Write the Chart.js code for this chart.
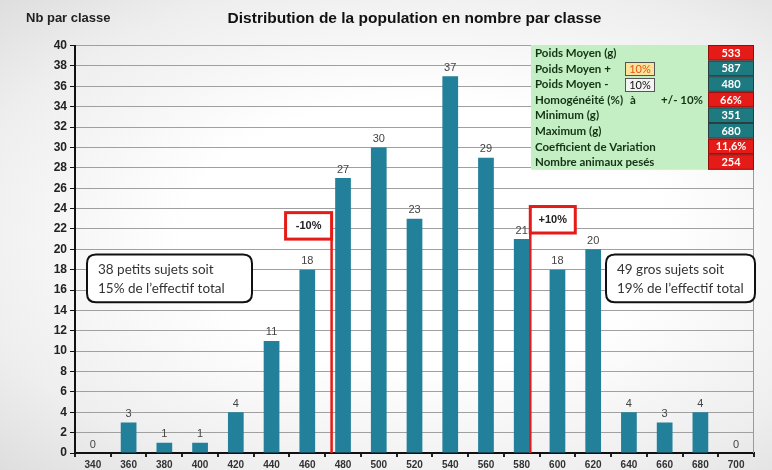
<!DOCTYPE html>
<html><head><meta charset="utf-8">
<script src="https://cdn.jsdelivr.net/npm/chart.js@4.4.1/dist/chart.umd.min.js"></script>
<style>
html,body{margin:0;padding:0;}
body{width:772px;height:470px;background:radial-gradient(ellipse at 55% 50%, #ffffff 40%, #eeeeee 78%, #dedede 100%);}
#wrap{position:relative;width:772px;height:470px;}
</style></head>
<body><div id="wrap"><canvas id="c" width="772" height="470"></canvas></div>
<script>
// ---- data ----
const classes = ['340','360','380','400','420','440','460','480','500','520','540','560','580','600','620','640','660','680','700'];
const counts  = [0,3,1,1,4,11,18,27,30,23,37,29,21,18,20,4,3,4,0];
const yTicks  = [0,2,4,6,8,10,12,14,16,18,20,22,24,26,28,30,32,34,36,38,40];
const chartTitle = 'Distribution de la population en nombre par classe';
const yAxisLabel = 'Nb par classe';
const statLabels = ['Poids Moyen (g)','Poids Moyen +','Poids Moyen -','Homogénéité (%)','Minimum (g)','Maximum (g)','Coefficient de Variation','Nombre animaux pesés'];
const statValues = ['533','587','480','66%','351','680','11,6%','254'];
const statAlert  = [true,false,false,true,false,false,true,true];
const pctPlus = '10%', pctMinus = '10%', homogLabelA = 'à', homogRange = '+/- 10%';
const leftNote  = ['38 petits sujets soit','15% de l\u2019effectif total'];
const rightNote = ['49 gros sujets soit','19% de l\u2019effectif total'];
const markerLeft = '-10%', markerRight = '+10%';

const BAR = '#22809a', RED = '#e41b17', TEAL = '#1d7a80';
const TF = 'Lato, "Open Sans", sans-serif';

function rr(ctx,x,y,w,h,r){ctx.beginPath();ctx.moveTo(x+r,y);ctx.lineTo(x+w-r,y);ctx.quadraticCurveTo(x+w,y,x+w,y+r);ctx.lineTo(x+w,y+h-r);ctx.quadraticCurveTo(x+w,y+h,x+w-r,y+h);ctx.lineTo(x+r,y+h);ctx.quadraticCurveTo(x,y+h,x,y+h-r);ctx.lineTo(x,y+r);ctx.quadraticCurveTo(x,y,x+r,y);ctx.closePath();}

const deco = {
  id:'deco',
  beforeDatasetsDraw(chart){
    const {ctx, chartArea:a} = chart;
    ctx.save();
    ctx.strokeStyle='#9a9a9a'; ctx.lineWidth=1;
    ctx.beginPath(); ctx.moveTo(a.right-0.5,a.top); ctx.lineTo(a.right-0.5,a.bottom); ctx.stroke();
    ctx.restore();
  },
  afterDraw(chart){
    const {ctx, chartArea:a, scales:{x,y}} = chart;
    const cw = x.getPixelForValue(1)-x.getPixelForValue(0);
    const px = i => x.getPixelForValue(0) + i*cw;
    ctx.save();
    // data labels
    ctx.font = '11px "Liberation Sans", Arial, sans-serif';
    ctx.fillStyle = '#444'; ctx.textAlign='center'; ctx.textBaseline='bottom';
    const meta = chart.getDatasetMeta(0);
    meta.data.forEach((b,i)=>{ ctx.fillText(String(counts[i]), b.x, b.y-3); });
    // y label
    ctx.font = 'bold 13px "Liberation Sans", Arial, sans-serif';
    ctx.fillStyle='#222'; ctx.textAlign='left'; ctx.textBaseline='middle';
    ctx.fillText(yAxisLabel, 26, 18);
    // red markers
    const drawMarker = (bx0,bx1,v0,v1,txt,lineX)=>{
      const yt=y.getPixelForValue(v1), yb=y.getPixelForValue(v0);
      ctx.fillStyle='#fff'; ctx.fillRect(bx0,yt,bx1-bx0,yb-yt);
      ctx.strokeStyle=RED; ctx.lineWidth=3; ctx.strokeRect(bx0,yt,bx1-bx0,yb-yt);
      ctx.beginPath(); ctx.moveTo(lineX,yb); ctx.lineTo(lineX,a.bottom); ctx.lineWidth=2.5; ctx.stroke();
      ctx.fillStyle='#222'; ctx.font='bold 11px "Liberation Sans", Arial, sans-serif';
      ctx.textAlign='center'; ctx.textBaseline='middle';
      ctx.fillText(txt,(bx0+bx1)/2,(yt+yb)/2);
    };
    const lx = px(6.68), rx = px(12.24);
    drawMarker(lx-46, lx, 21.0, 23.6, markerLeft, lx);
    drawMarker(rx, rx+45, 21.6, 24.2, markerRight, rx);
    // notes
    const note = (x0,x1,lines)=>{
      const yt=y.getPixelForValue(19.5), yb=y.getPixelForValue(14.8);
      rr(ctx,x0,yt,x1-x0,yb-yt,9);
      ctx.fillStyle='#fff'; ctx.fill(); ctx.strokeStyle='#111'; ctx.lineWidth=2; ctx.stroke();
      ctx.fillStyle='#333'; ctx.font='13.5px Lato, "Open Sans", sans-serif';
      ctx.textAlign='left'; ctx.textBaseline='middle';
      ctx.fillText(lines[0], x0+11, yt+(yb-yt)*0.31);
      ctx.fillText(lines[1], x0+11, yt+(yb-yt)*0.71);
    };
    note(87,252,leftNote);
    note(606,755,rightNote);
    // stats table
    const tx0=531, tx1=708, tx2=754, ty0=45, rh=15.6;
    ctx.fillStyle='#c4efc4'; ctx.fillRect(tx0,ty0,tx1-tx0,rh*statLabels.length);
    statLabels.forEach((lab,i)=>{
      const yc = ty0+rh*(i+0.5);
      ctx.fillStyle = statAlert[i]?RED:TEAL;
      ctx.fillRect(tx1,ty0+rh*i,tx2-tx1,rh);
      ctx.strokeStyle='rgba(60,0,0,0.5)'; ctx.lineWidth=1;
      ctx.strokeRect(tx1+0.5,ty0+rh*i+0.5,tx2-tx1-1,rh-1);
      ctx.fillStyle='#fff'; ctx.font='bold 11px '+TF;
      ctx.textAlign='center'; ctx.textBaseline='middle';
      ctx.fillText(statValues[i],(tx1+tx2)/2,yc+0.5);
      ctx.fillStyle='#143314'; ctx.textAlign='left'; ctx.font='bold 11.5px '+TF;
      ctx.fillText(lab, tx0+4, yc+0.5);
    });
    // small percent boxes
    const pb=(yt,fill,col,txt)=>{
      ctx.fillStyle=fill; ctx.fillRect(625,yt,30,14);
      ctx.strokeStyle='#555'; ctx.lineWidth=1; ctx.strokeRect(625.5,yt+0.5,29,13);
      ctx.fillStyle=col; ctx.font='11px '+TF; ctx.textAlign='center';
      ctx.fillText(txt,640,yt+7.5);
    };
    pb(62,'#fbe39a','#e5531a',pctPlus);
    pb(78,'#f4f4f4','#111',pctMinus);
    ctx.fillStyle='#143314'; ctx.font='bold 11.5px '+TF;
    ctx.textAlign='left'; ctx.fillText(homogLabelA,630,ty0+rh*3.5+0.5);
    ctx.textAlign='right'; ctx.fillText(homogRange,703,ty0+rh*3.5+0.5);
    ctx.restore();
  }
};

new Chart(document.getElementById('c'),{
  type:'bar',
  data:{labels:classes,datasets:[{data:counts,backgroundColor:BAR,borderWidth:0,barPercentage:0.88,categoryPercentage:0.5}]},
  plugins:[deco],
  options:{
    responsive:false, animation:false,
    layout:{padding:{left:0,right:18,top:0,bottom:0}},
    plugins:{
      legend:{display:false}, tooltip:{enabled:false},
      title:{display:true,text:chartTitle,fullSize:false,color:'#111',
        font:{family:'"Liberation Sans", Arial, sans-serif',size:15.5,weight:'bold'},
        padding:{top:9,bottom:18}}
    },
    scales:{
      x:{
        grid:{drawOnChartArea:false,drawTicks:true,tickLength:4,tickColor:'#222',lineWidth:2},
        border:{display:true,color:'#111',width:2},
        ticks:{color:'#333',font:{family:'"Liberation Sans", Arial, sans-serif',size:10,weight:'bold'},padding:2,maxRotation:0,autoSkip:false},
        afterFit(s){s.height=17;}
      },
      y:{
        min:0,max:40,
        afterBuildTicks(s){s.ticks=yTicks.map(v=>({value:v}));},
        grid:{color:'#a0a0a0',lineWidth:1,tickLength:5,tickColor:'#111'},
        border:{display:true,color:'#111',width:2},
        ticks:{color:'#222',font:{family:'"Liberation Sans", Arial, sans-serif',size:12,weight:'bold'},padding:3},
        afterFit(s){s.width=75;}
      }
    }
  }
});
</script></body></html>
